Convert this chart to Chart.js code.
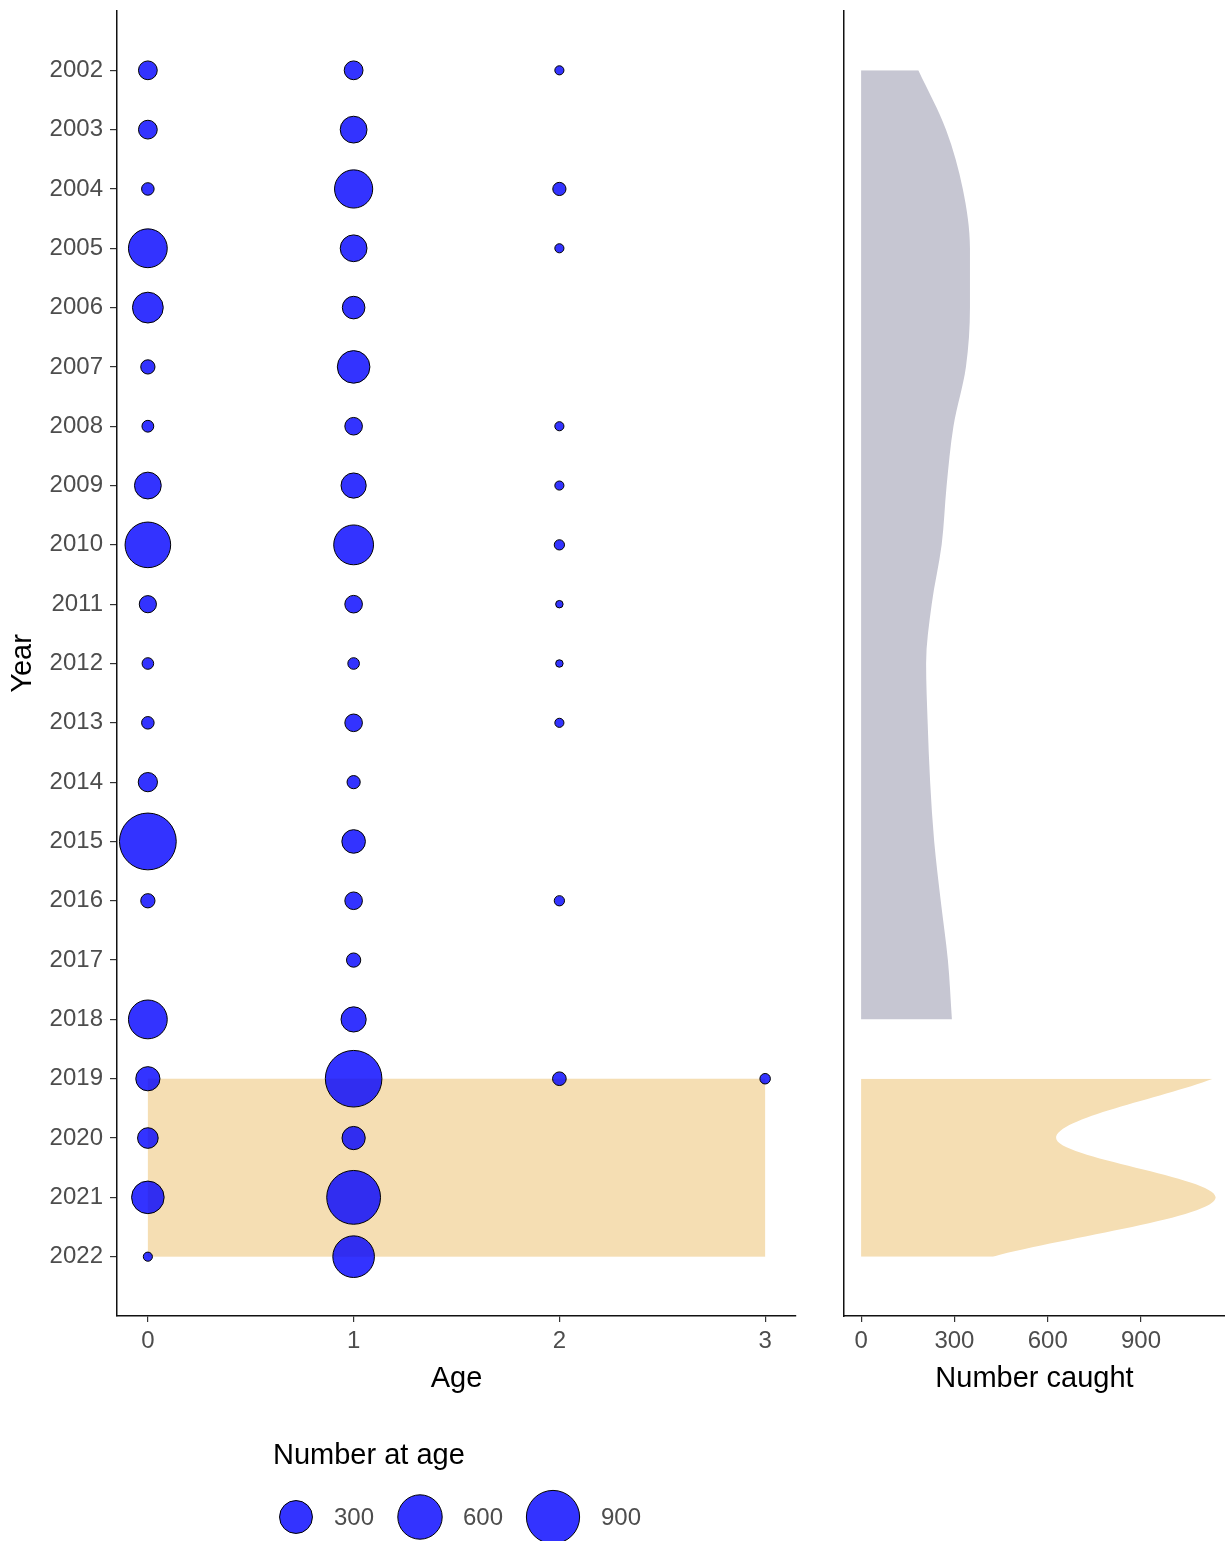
<!DOCTYPE html>
<html>
<head>
<meta charset="utf-8">
<script src="https://cdn.jsdelivr.net/npm/chart.js@4.4.1/dist/chart.umd.min.js"></script>
<style>
  html, body { margin: 0; padding: 0; background: #fff; }
  #wrap { position: relative; width: 1225px; height: 1541px; overflow: hidden; }
  #ageChart { position: absolute; left: 0; top: 0; }
  #catchChart { position: absolute; left: 800px; top: 0; }
</style>
</head>
<body>
<div id="wrap">
  <canvas id="ageChart" width="800" height="1541"></canvas>
  <canvas id="catchChart" width="425" height="1541"></canvas>
</div>
<script>
// Survey years and ages
const YEARS = [2002, 2003, 2004, 2005, 2006, 2007, 2008, 2009, 2010, 2011, 2012,
               2013, 2014, 2015, 2016, 2017, 2018, 2019, 2020, 2021, 2022];
const AGES = [0, 1, 2, 3];

// Number at age, one value per year (null = none caught)
const AGE0 = [72, 72, 21, 441, 256, 32, 17, 182, 638, 56, 16, 21, 77, 1040, 32, null, 441, 141, 93, 293, 6];
const AGE1 = [72, 182, 425, 182, 118, 293, 60, 156, 468, 60, 16, 60, 25, 132, 60, 32, 156, 1032, 127, 923, 518];
const AGE2 = [6, null, 25, 6, null, null, 6, 6, 10, 2, 2, 6, null, null, 10, null, null, 28, null, null, null];
const AGE3 = [null, null, null, null, null, null, null, null, null, null, null, null, null, null, null, null, null, 11, null, null, null];

// Number caught (smoothed), earlier period and recent period
const CATCH_YEARS_OLD = [2002, 2003, 2004, 2005, 2006, 2007, 2008, 2009, 2010, 2011, 2012,
                         2013, 2014, 2015, 2016, 2017, 2018];
const CATCH_OLD = [184, 273, 327, 350, 350, 337, 297, 275, 259, 227, 209, 214, 222, 235, 256, 279, 292];
const CATCH_YEARS_NEW = [2019, 2020, 2021, 2022];
const CATCH_NEW = [1131, 627, 1140, 424];

// Highlighted block (ages x years)
const HL_AGES = [0, 3];
const HL_YEARS = [2019, 2022];

const LEGEND_VALUES = [300, 600, 900];
const CATCH_TICKS = [0, 300, 600, 900];

const FONT = "'Liberation Sans', Arial, sans-serif";
const TICK_GREY = '#4d4d4d';
const BLUE = 'rgba(0,0,255,0.8)';
const WHEAT = '#f5deb3';
const LAVGREY = '#c6c6d2';

// area-style size scale
function sizeFor(v) { return 2.6 + 0.8 * Math.sqrt(v); }

const bubblePoints = [];
[AGE0, AGE1, AGE2, AGE3].forEach((series, a) => {
  series.forEach((v, i) => {
    if (v == null) return;
    bubblePoints.push({ x: AGES[a], y: YEARS[i], r: sizeFor(v) });
  });
});

const axisGrid = { display: true, drawOnChartArea: false, drawTicks: true, color: '#333', lineWidth: 1.2 };
const axisBorder = { display: true, color: '#111', width: 1.5 };

// fixed axis boxes so both panels line up
function fixBox(size) {
  return s => {
    if (s.isHorizontal()) s.height = size; else s.width = size;
    s.paddingTop = 0; s.paddingBottom = 0; s.paddingLeft = 0; s.paddingRight = 0;
  };
}

// wheat rectangle behind the bubbles
const highlightPlugin = {
  id: 'highlight',
  beforeDatasetsDraw(chart) {
    const { ctx, scales: { x, y } } = chart;
    const x0 = x.getPixelForValue(HL_AGES[0]), x1 = x.getPixelForValue(HL_AGES[1]);
    const y0 = y.getPixelForValue(HL_YEARS[0]), y1 = y.getPixelForValue(HL_YEARS[1]);
    ctx.save();
    ctx.fillStyle = WHEAT;
    ctx.fillRect(x0, y0, x1 - x0, y1 - y0);
    ctx.restore();
  },
};

// size legend under the panel
const sizeLegendPlugin = {
  id: 'sizeLegend',
  afterDraw(chart) {
    const { ctx } = chart;
    ctx.save();
    ctx.fillStyle = '#000';
    ctx.font = `29px ${FONT}`;
    ctx.textAlign = 'left';
    ctx.textBaseline = 'middle';
    ctx.fillText('Number at age', 273, 1456);

    const centers = [296, 420, 553];
    const labelX = [354, 483, 621];
    LEGEND_VALUES.forEach((v, i) => {
      ctx.beginPath();
      ctx.arc(centers[i], 1517, sizeFor(v), 0, Math.PI * 2);
      ctx.fillStyle = BLUE;
      ctx.fill();
      ctx.lineWidth = 1;
      ctx.strokeStyle = '#000';
      ctx.stroke();
      ctx.fillStyle = TICK_GREY;
      ctx.font = `24px ${FONT}`;
      ctx.textAlign = 'center';
      ctx.fillText(String(v), labelX[i], 1518);
    });
    ctx.restore();
  },
};

new Chart(document.getElementById('ageChart'), {
  type: 'bubble',
  data: {
    datasets: [{
      data: bubblePoints,
      backgroundColor: BLUE,
      borderColor: '#000',
      borderWidth: 1,
      hoverBorderWidth: 1,
      hoverRadius: 0,
      clip: false,
    }],
  },
  options: {
    responsive: false,
    devicePixelRatio: 1,
    animation: false,
    events: [],
    layout: { autoPadding: false, padding: { left: 0, top: 11, right: 4, bottom: 0 } },
    plugins: { legend: { display: false }, tooltip: { enabled: false } },
    scales: {
      x: {
        type: 'linear', min: -0.15, max: 3.15,
        afterBuildTicks: s => { s.ticks = AGES.map(v => ({ value: v })); },
        afterFit: fixBox(225),
        ticks: { color: TICK_GREY, font: { family: FONT, size: 24 }, padding: 5, callback: v => String(v) },
        grid: { ...axisGrid, tickLength: 6 },
        border: axisBorder,
        title: { display: true, text: 'Age', color: '#000', font: { family: FONT, size: 29 }, padding: { top: 0, bottom: 145 } },
      },
      y: {
        type: 'linear', reverse: true, min: 2001, max: 2023,
        afterBuildTicks: s => { s.ticks = YEARS.map(v => ({ value: v })); },
        afterFit: fixBox(117),
        ticks: { color: TICK_GREY, font: { family: FONT, size: 24 }, padding: 7, callback: v => String(v) },
        grid: { ...axisGrid, tickLength: 7 },
        border: axisBorder,
        title: { display: true, text: 'Year', color: '#000', font: { family: FONT, size: 29 }, padding: { top: 6, bottom: 0 } },
      },
    },
  },
  plugins: [highlightPlugin, sizeLegendPlugin],
});

new Chart(document.getElementById('catchChart'), {
  type: 'line',
  data: {
    datasets: [
      {
        data: CATCH_YEARS_OLD.map((yr, i) => ({ x: CATCH_OLD[i], y: yr })),
        backgroundColor: LAVGREY,
        borderColor: 'rgba(0,0,0,0)',
        borderWidth: 1,
        pointRadius: 0,
        fill: 'origin',
        cubicInterpolationMode: 'monotone',
      },
      {
        data: CATCH_YEARS_NEW.map((yr, i) => ({ x: CATCH_NEW[i], y: yr })),
        backgroundColor: WHEAT,
        borderColor: 'rgba(0,0,0,0)',
        borderWidth: 1,
        pointRadius: 0,
        fill: 'origin',
        cubicInterpolationMode: 'monotone',
      },
    ],
  },
  options: {
    indexAxis: 'y',
    responsive: false,
    devicePixelRatio: 1,
    animation: false,
    events: [],
    layout: { autoPadding: false, padding: { left: 0, top: 11, right: 0, bottom: 0 } },
    plugins: { legend: { display: false }, tooltip: { enabled: false } },
    scales: {
      x: {
        type: 'linear', min: -55, max: 1170,
        afterBuildTicks: s => { s.ticks = CATCH_TICKS.map(v => ({ value: v })); },
        afterFit: fixBox(225),
        ticks: { color: TICK_GREY, font: { family: FONT, size: 24 }, padding: 5, callback: v => String(v) },
        grid: { ...axisGrid, tickLength: 6 },
        border: axisBorder,
        title: { display: true, text: 'Number caught', color: '#000', font: { family: FONT, size: 29 }, padding: { top: 0, bottom: 145 } },
      },
      y: {
        type: 'linear', reverse: true, min: 2001, max: 2023,
        afterFit: fixBox(44),
        ticks: { display: false },
        grid: { display: true, drawOnChartArea: false, drawTicks: false },
        border: axisBorder,
      },
    },
  },
});
</script>
</body>
</html>
